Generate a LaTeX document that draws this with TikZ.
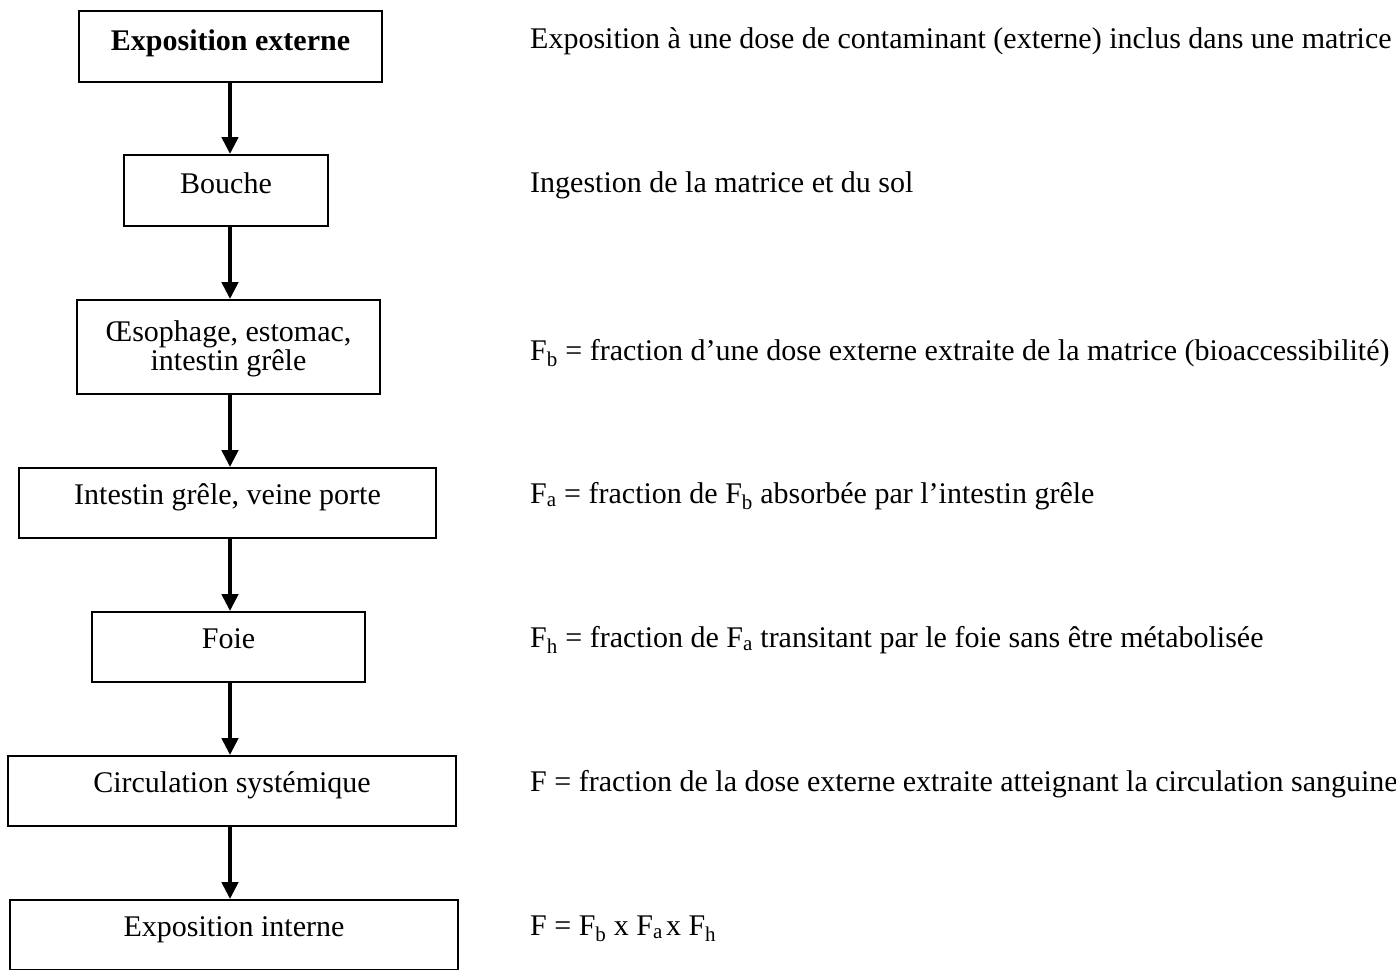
\documentclass[tikz,border=0pt]{standalone}
\usepackage{fontspec}
\setmainfont{Liberation Serif}
\usetikzlibrary{arrows.meta}
\newcommand{\Sb}[1]{\textsubscript{#1}}
\begin{document}
\begin{tikzpicture}[x=1pt,y=-1pt,
  box/.style={draw, line width=1.8pt, inner sep=0pt, align=center,
    font=\fontsize{30}{27}\selectfont},
  desc/.style={anchor=base west, inner sep=0pt, font=\fontsize{30}{27}\selectfont},
  flow/.style={line width=4.6pt, -{Triangle[length=17pt,width=16pt]}}]
\useasboundingbox (0,0) rectangle (1396,969);
\coordinate (ax) at (230,0);
% boxes
\node[box, minimum width=303pt, minimum height=71pt, text height=22pt, text depth=15pt] (b1) at (230.5,46.5) {\bfseries Exposition externe};
\node[box, minimum width=204pt, minimum height=71pt, text height=21pt, text depth=16pt] (b2) at (226,190.5) {Bouche};
\node[box, minimum width=303pt, minimum height=94pt, text height=50pt, text depth=4pt] (b3) at (228.5,347) {Œsophage, estomac,\\intestin grêle};
\node[box, minimum width=417pt, minimum height=70pt, text height=20pt, text depth=18pt] (b4) at (227.5,503) {Intestin grêle, veine porte};
\node[box, minimum width=273pt, minimum height=70pt, text height=20pt, text depth=18pt] (b5) at (228.5,647) {Foie};
\node[box, minimum width=448pt, minimum height=70pt, text height=20pt, text depth=18pt] (b6) at (232,791) {Circulation systémique};
\node[box, minimum width=448pt, minimum height=70pt, text height=20pt, text depth=18pt] (b7) at (234,935) {Exposition interne};
% arrows
\draw[flow] (b1.south -| ax) -- (b2.north -| ax);
\draw[flow] (b2.south -| ax) -- (b3.north -| ax);
\draw[flow] (b3.south -| ax) -- (b4.north -| ax);
\draw[flow] (b4.south -| ax) -- (b5.north -| ax);
\draw[flow] (b5.south -| ax) -- (b6.north -| ax);
\draw[flow] (b6.south -| ax) -- (b7.north -| ax);
% descriptions
\node[desc] (d1) at (530,48) {Exposition à une dose de contaminant (externe) inclus dans une matrice};
\node[desc] (d2) at (530,192) {Ingestion de la matrice et du sol};
\node[desc] (d3) at (530,360) {F\Sb{b} = fraction d’une dose externe extraite de la matrice (bioaccessibilité)};
\node[desc] (d4) at (530,503) {F\Sb{a} = fraction de F\Sb{b} absorbée par l’intestin grêle};
\node[desc] (d5) at (530,647) {F\Sb{h} = fraction de F\Sb{a} transitant par le foie sans être métabolisée};
\node[desc] (d6) at (530,791) {F = fraction de la dose externe extraite atteignant la circulation sanguine};
\node[desc] (d7) at (530,935) {F = F\Sb{b} x F\Sb{a}\hspace{3pt}x F\Sb{h}};
\end{tikzpicture}
\end{document}
